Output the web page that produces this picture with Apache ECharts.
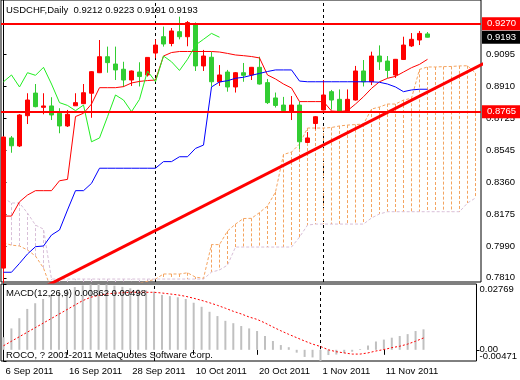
<!DOCTYPE html>
<html><head><meta charset="utf-8">
<script src="https://cdn.jsdelivr.net/npm/echarts@6/dist/echarts.min.js"></script>
<style>html,body{margin:0;padding:0;background:#fff}#c{width:520px;height:380px}</style>
</head><body><div id="c"></div>
<script>
// ---------- data ----------
const symbolName = 'USDCHF,Daily';
const dateLabels = ['6 Sep 2011','16 Sep 2011','28 Sep 2011','10 Oct 2011','20 Oct 2011','1 Nov 2011','11 Nov 2011'];
const dateTickIdx = [0, 8, 16, 24, 32, 40, 48];

const open = [0.7866,0.8614,0.8568,0.8742,0.8872,0.8790,0.8798,0.8756,0.8683,0.8799,
  0.8811,0.8871,0.8989,0.9081,0.9039,0.9009,0.8947,0.8993,0.8976,0.9102,
  0.9196,0.9157,0.9225,0.9196,0.9269,0.9028,0.9078,0.8937,0.8993,0.8907,
  0.8989,0.8976,0.9020,0.8932,0.8844,0.8803,0.8765,0.8803,0.8588,0.8697,
  0.8775,0.8880,0.8836,0.8765,0.8832,0.8999,0.8937,0.9085,0.9056,0.8976,
  0.9065,0.9143,0.9177,0.9212];
const high = [0.8625,0.8625,0.8751,0.8871,0.8924,0.8871,0.8848,0.8785,0.8775,0.8871,
  0.8924,0.8998,0.9177,0.9139,0.9139,0.9052,0.9002,0.9049,0.9078,0.9180,
  0.9254,0.9246,0.9311,0.9286,0.9278,0.9120,0.9108,0.9033,0.9005,0.8993,
  0.9045,0.9022,0.9081,0.8953,0.8875,0.8850,0.8855,0.8821,0.8648,0.8740,
  0.8947,0.8890,0.8893,0.8893,0.9028,0.9062,0.9110,0.9146,0.9085,0.9068,
  0.9196,0.9217,0.9229,0.9223];
const low = [0.7780,0.8529,0.8562,0.8694,0.8790,0.8750,0.8717,0.8641,0.8677,0.8798,
  0.8809,0.8730,0.8987,0.8989,0.8947,0.8907,0.8913,0.8910,0.8967,0.9072,
  0.9139,0.9141,0.9181,0.9141,0.8999,0.8999,0.8909,0.8913,0.8880,0.8875,
  0.8937,0.8947,0.8921,0.8809,0.8789,0.8765,0.8717,0.8550,0.8587,0.8664,
  0.8772,0.8777,0.8760,0.8760,0.8829,0.8910,0.8918,0.9005,0.8959,0.8959,
  0.9062,0.9137,0.9148,0.9191];
const close = [0.8619,0.8569,0.8746,0.8832,0.8794,0.8798,0.8746,0.8683,0.8750,0.8817,
  0.8874,0.8995,0.9081,0.9047,0.9005,0.8947,0.8999,0.8967,0.9077,0.9148,
  0.9154,0.9229,0.9196,0.9277,0.9028,0.9085,0.8937,0.8976,0.8907,0.8989,
  0.8974,0.9020,0.8924,0.8817,0.8801,0.8771,0.8803,0.8592,0.8614,0.8736,
  0.8861,0.8832,0.8765,0.8836,0.8999,0.8937,0.9085,0.9052,0.9002,0.9066,
  0.9148,0.9181,0.9215,0.9193];

const tenkan = [0.8165,0.8165,0.8247,0.8286,0.8311,0.8311,0.8311,0.8368,0.8376,0.8737,
  0.8756,0.8809,0.8903,0.8903,0.8903,0.8909,0.8930,0.8939,0.8944,0.8947,
  0.9085,0.9105,0.9111,0.9111,0.9111,0.9111,0.9111,0.9108,0.9100,0.9091,
  0.9087,0.9082,0.9074,0.8976,0.8953,0.8924,0.8901,0.8823,0.8823,0.8823,
  0.8823,0.8769,0.8766,0.8771,0.8809,0.8851,0.8899,0.8937,0.8957,0.8968,
  0.8993,0.9018,0.9037,0.9066];
const kijun = [0.7842,0.7842,0.7893,0.7947,0.7989,0.7993,0.8056,0.8085,0.8200,0.8311,
  0.8311,0.8353,0.8440,0.8440,0.8440,0.8440,0.8440,0.8440,0.8440,0.8440,
  0.8478,0.8478,0.8506,0.8506,0.8554,0.8573,0.8907,0.8936,0.8943,0.8957,
  0.8963,0.8974,0.8985,0.8996,0.9005,0.9005,0.9005,0.8941,0.8937,0.8937,
  0.8937,0.8937,0.8937,0.8937,0.8937,0.8937,0.8937,0.8934,0.8924,0.8907,
  0.8880,0.8890,0.8894,0.8894];
const chikou = [0.8937,0.8976,0.8907,0.8989,0.8974,0.9020,0.8924,0.8817,0.8801,0.8771,
  0.8803,0.8592,0.8614,0.8736,0.8861,0.8832,0.8765,0.8836,0.8999,0.8937,
  0.9085,0.9052,0.9002,0.9066,0.9148,0.9181,0.9215,0.9193];
const spanA = [0.8010,0.7998,0.7993,0.7970,0.7935,0.7866,0.7740,
  0.7730,0.7720,0.7710,0.7700,0.7700,0.7710,0.7730,0.7750,0.7760,0.7770,0.7780,0.7790,
  0.7803,0.7832,0.7832,0.7832,0.7839,0.7814,0.7807,
  0.8001,0.8001,0.8079,0.8119,0.8151,0.8152,0.8185,0.8223,0.8303,0.8519,0.8533,0.8579,
  0.8671,0.8671,0.8671,0.8674,0.8683,0.8688,0.8691,0.8694,
  0.8780,0.8792,0.8809,0.8809,0.8832,0.8842,
  0.9008,0.9022,0.9022,0.9024,0.9025,0.9028,0.9029,0.8987];
const spanB = [0.8269,0.8240,0.8240,0.8182,0.8113,0.8090,
  0.7803,0.7803,0.7803,0.7803,0.7803,0.7803,0.7803,0.7803,0.7803,0.7803,
  0.7803,0.7803,0.7803,0.7803,0.7803,0.7803,0.7803,0.7803,0.7803,0.7803,
  0.7843,0.7855,0.7883,
  0.7987,0.7987,0.7987,0.7987,0.7987,0.7987,0.7987,0.7987,
  0.8044,0.8113,
  0.8119,0.8119,0.8119,0.8119,0.8119,0.8119,0.8119,
  0.8154,0.8177,
  0.8190,0.8190,0.8190,0.8190,0.8190,0.8190,0.8190,0.8190,0.8190,0.8190,
  0.8240,0.8269];

const macdHist = [0.0053,0.0090,0.0133,0.0172,0.0196,0.0214,0.0230,0.0243,0.0255,0.0264,
  0.0271,0.0275,0.02769,0.0275,0.0270,0.0265,0.0259,0.0254,0.0250,0.0245,
  0.0231,0.0226,0.0221,0.0214,0.0198,0.0181,0.0160,0.0142,0.0122,0.0112,
  0.0100,0.0090,0.0079,0.0058,0.0037,0.0020,0.0011,-0.0012,-0.0030,-0.0032,
  -0.00471,-0.0022,-0.0020,-0.0014,-0.0008,0.0003,0.0018,0.0035,0.0043,0.0051,
  0.0058,0.0066,0.0079,0.00862];
const macdSignal = [0.0017,0.0036,0.0055,0.0074,0.0093,0.0112,0.0131,0.0150,0.0169,0.0188,
  0.0207,0.0221,0.0229,0.0235,0.0238,0.0240,0.0242,0.0242,0.0242,0.0242,
  0.0239,0.0235,0.0231,0.0225,0.0217,0.0208,0.0198,0.0187,0.0175,0.0162,
  0.0151,0.0138,0.0128,0.0113,0.0096,0.0080,0.0065,0.0051,0.0037,0.0024,
  0.0014,0.0000,-0.0008,-0.0013,-0.0018,-0.0018,-0.0013,-0.0005,0.0001,0.0009,
  0.0015,0.0024,0.0036,0.00498];

const priceTicks = [0.9095,0.8910,0.8725,0.8545,0.8360,0.8175,0.7990,0.7810];
const macdRangeTicks = [-0.004709, 0.02769];
const macdZeroTick = [0];
const levelLines = [0.9270, 0.8765];
const lastPrice = 0.9193;
const trendPoints = [[0, 0.7638], [60, 0.9042]];
const separatorIdx = [19, 40];

// ---------- chart ----------
const FONT = "'Liberation Sans', Arial, sans-serif";
const XMIN = -0.3125, XMAX = 59.6875;
const MACD_MIN = -0.00471, MACD_MAX = 0.02769;
const last = open.length - 1;
const headerText = symbolName + '  ' + [open[last], high[last], low[last], close[last]].map(v => v.toFixed(4)).join(' ');
const macdText = 'MACD(12,26,9) ' + macdHist[last].toFixed(5) + ' ' + macdSignal[last].toFixed(5);
const pairs = arr => arr.map((v, i) => [i, v]);

const chart = echarts.init(document.getElementById('c'), null, {renderer: 'canvas'});
const sepMark = {
  silent: true, symbol: ['none', 'none'], z: 1, precision: 4,
  lineStyle: {color: '#000', width: 1, type: [3, 3]},
  label: {show: false},
  data: separatorIdx.map(i => ({xAxis: i}))
};
const labelFont = {fontSize: 9.5, color: '#000', fontFamily: FONT};
chart.setOption({
  animation: false,
  backgroundColor: '#fff',
  textStyle: {fontFamily: FONT},
  title: [
    {text: headerText, left: 6, top: 5, padding: 0, textStyle: {fontSize: 9.5, fontWeight: 'normal', color: '#000', fontFamily: FONT}},
    {text: macdText, left: 6, top: 288, padding: 0, textStyle: {fontSize: 9.5, fontWeight: 'normal', color: '#000', fontFamily: FONT}},
    {text: 'ROCO, ? 2001-2011 MetaQuotes Software Corp.', left: 6, top: 350, padding: 0, textStyle: {fontSize: 9.5, fontWeight: 'normal', color: '#000', fontFamily: FONT}}
  ],
  grid: [
    {left: 1, top: 0, width: 480, height: 282, show: true, borderColor: '#000', borderWidth: 1, backgroundColor: 'transparent'},
    {left: 1, top: 284, width: 480, height: 77, show: true, borderColor: '#000', borderWidth: 1, backgroundColor: 'transparent'}
  ],
  xAxis: [
    {type: 'value', gridIndex: 0, min: XMIN, max: XMAX, show: false},
    {type: 'value', gridIndex: 1, min: XMIN, max: XMAX,
      axisLine: {show: false}, splitLine: {show: false},
      axisTick: {show: true, customValues: dateTickIdx, length: 5, lineStyle: {color: '#000'}},
      axisLabel: Object.assign({customValues: dateTickIdx, formatter: v => dateLabels[dateTickIdx.indexOf(Math.round(v))],
        align: 'left', padding: [0, 0, 0, 2], margin: 5}, labelFont)}
  ],
  yAxis: [
    {type: 'value', gridIndex: 0, position: 'right', min: 0.7786, max: 0.9407, scale: true,
      splitLine: {show: false},
      axisLine: {show: true, lineStyle: {color: '#000'}},
      axisTick: {show: true, customValues: priceTicks, length: 3, lineStyle: {color: '#000'}},
      axisLabel: Object.assign({customValues: priceTicks, formatter: v => v.toFixed(4), margin: 5}, labelFont)},
    {type: 'value', gridIndex: 1, position: 'right', min: MACD_MIN, max: MACD_MAX,
      splitLine: {show: false},
      axisLine: {show: true, lineStyle: {color: '#000'}},
      axisTick: {show: true, customValues: macdRangeTicks, length: 3, lineStyle: {color: '#000'}},
      axisLabel: Object.assign({customValues: macdRangeTicks, formatter: v => v.toFixed(5), margin: 3,
        showMinLabel: true, showMaxLabel: true,
        verticalAlignMinLabel: 'bottom', verticalAlignMaxLabel: 'top'}, labelFont)},
    {type: 'value', gridIndex: 1, position: 'right', min: MACD_MIN, max: MACD_MAX,
      splitLine: {show: false},
      axisLine: {show: false},
      axisTick: {show: true, customValues: macdZeroTick, length: 3, lineStyle: {color: '#000'}},
      axisLabel: Object.assign({customValues: macdZeroTick, formatter: v => v.toFixed(2), margin: 3}, labelFont)}
  ],
  series: [
    {type: 'custom', name: 'cloud', xAxisIndex: 0, yAxisIndex: 0, clip: true, z: 1,
      data: spanA.map((a, i) => [i, a, spanB[i]]),
      renderItem: (params, api) => {
        const a = api.value(1), b = api.value(2);
        const p1 = api.coord([api.value(0), a]);
        const p2 = api.coord([api.value(0), b]);
        return {type: 'line', shape: {x1: p1[0], y1: p1[1], x2: p2[0], y2: p2[1]},
          style: {stroke: a >= b ? '#F4A460' : '#D8BFD8', lineWidth: 1, lineDash: [3, 2]}};
      }},
    {type: 'line', name: 'Senkou A', xAxisIndex: 0, yAxisIndex: 0, data: pairs(spanA), symbol: 'none', z: 2,
      lineStyle: {color: '#F4A460', width: 1, type: [3, 2]}},
    {type: 'line', name: 'Senkou B', xAxisIndex: 0, yAxisIndex: 0, data: pairs(spanB), symbol: 'none', z: 2,
      lineStyle: {color: '#D8BFD8', width: 1, type: [3, 2]}},
    {type: 'candlestick', name: 'USDCHF', xAxisIndex: 0, yAxisIndex: 0, z: 3, barWidth: 4,
      data: open.map((o, i) => [i, o, close[i], low[i], high[i]]),
      itemStyle: {color: '#ff0000', color0: '#32cd32', borderColor: '#ff0000', borderColor0: '#32cd32', borderWidth: 1},
      markLine: {silent: true, symbol: ['none', 'none'], z: 6, precision: 4,
        label: {show: true, position: 'end', distance: 1, formatter: p => Number(p.value).toFixed(4), color: '#fff',
          fontSize: 9.5, fontFamily: FONT, padding: [2, 5, 1, 5], opacity: 1},
        data: [
          ...levelLines.map(v => ({yAxis: v, lineStyle: {color: '#ff0000', width: 2, type: 'solid'}, label: {backgroundColor: '#ff0000'}})),
          {yAxis: lastPrice, lineStyle: {color: 'rgba(0,0,0,0)', width: 1, type: 'solid'}, label: {backgroundColor: '#000', color: '#fff'}}
        ]}},
    {type: 'line', name: 'Tenkan', xAxisIndex: 0, yAxisIndex: 0, data: pairs(tenkan), symbol: 'none', z: 4,
      lineStyle: {color: '#ff0000', width: 1}, markLine: sepMark},
    {type: 'line', name: 'Kijun', xAxisIndex: 0, yAxisIndex: 0, data: pairs(kijun), symbol: 'none', z: 4,
      lineStyle: {color: '#0000ff', width: 1}},
    {type: 'line', name: 'Chikou', xAxisIndex: 0, yAxisIndex: 0, data: pairs(chikou), symbol: 'none', z: 4,
      lineStyle: {color: '#22ee22', width: 1}},
    {type: 'line', name: 'Trend', xAxisIndex: 0, yAxisIndex: 0, data: trendPoints, symbol: 'none', z: 6,
      lineStyle: {color: '#ff0000', width: 3}},
    {type: 'bar', name: 'MACD', xAxisIndex: 1, yAxisIndex: 1, data: pairs(macdHist), barWidth: 2, z: 2,
      itemStyle: {color: '#c0c0c0'}, markLine: sepMark},
    {type: 'line', name: 'Signal', xAxisIndex: 1, yAxisIndex: 1, data: pairs(macdSignal), symbol: 'none', z: 4,
      lineStyle: {color: '#ff0000', width: 1, type: [2, 2]}}
  ]
});
</script>
</body></html>
